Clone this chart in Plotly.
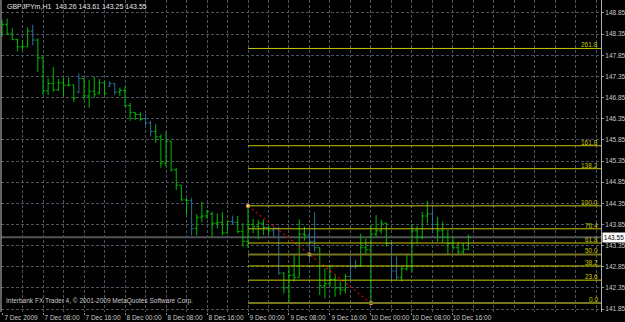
import pandas as pd
import plotly.graph_objects as go

# ---------------- data ----------------
start = pd.Timestamp("2009-12-07 00:00")
times = pd.date_range(start, periods=92, freq="h")

opens = [148.40, 148.58, 148.35, 148.22, 148.05, 148.05, 148.42, 148.21, 147.79, 147.01,
         147.18, 147.03, 147.20, 147.14, 147.15, 146.98, 147.30, 146.89, 147.00, 146.96,
         147.20, 147.12, 147.18, 146.98, 147.02, 146.66, 146.50, 146.45, 146.35, 146.25,
         146.05, 145.92, 145.30, 145.82, 145.14, 144.78, 144.43, 144.42, 143.75, 144.02,
         144.05, 144.10, 143.88, 143.90, 143.65, 143.92, 143.90, 143.68, 143.45, 143.85,
         143.80, 143.88, 143.78, 143.70, 143.75, 142.70, 142.35, 142.65, 142.60, 143.62,
         143.60, 143.45, 143.30, 142.40, 142.45, 142.55, 142.35, 142.30, 142.62, 142.85,
         142.88, 143.30, 143.25, 143.62, 143.70, 143.88, 143.40, 142.75, 142.60, 142.80,
         142.85, 143.70, 143.55, 144.05, 144.10, 143.85, 143.70, 143.55, 143.40, 143.30,
         143.20, 143.26]
highs = [148.68, 148.72, 148.49, 148.24, 148.21, 148.51, 148.57, 148.25, 147.82, 147.31,
         147.57, 147.29, 147.31, 147.32, 147.15, 147.42, 147.31, 147.27, 147.34, 147.29,
         147.24, 147.24, 147.19, 147.08, 147.11, 146.72, 146.50, 146.50, 146.46, 146.30,
         146.22, 145.98, 146.04, 145.82, 145.18, 144.78, 144.47, 144.48, 144.09, 144.39,
         144.19, 144.15, 144.11, 144.14, 143.93, 144.06, 144.05, 143.88, 144.29, 143.98,
         143.96, 143.97, 143.80, 143.80, 143.80, 142.72, 142.85, 143.13, 143.97, 143.80,
         143.74, 144.14, 143.30, 142.81, 142.89, 142.66, 142.50, 142.68, 143.05, 143.01,
         143.63, 143.52, 143.84, 144.07, 143.96, 143.89, 143.47, 143.09, 142.87, 143.13,
         143.86, 143.81, 144.15, 144.41, 144.23, 144.03, 143.92, 143.72, 143.56, 143.44,
         143.41, 143.61]
lows = [148.29, 148.33, 148.21, 147.94, 147.98, 148.05, 148.08, 147.46, 146.91, 146.91,
        146.99, 147.01, 146.87, 147.11, 146.75, 146.95, 146.79, 146.61, 146.85, 146.92,
        146.91, 147.11, 146.91, 146.89, 146.63, 146.30, 146.32, 146.30, 146.20, 145.93,
        145.78, 145.19, 145.22, 145.10, 144.67, 144.41, 144.09, 143.59, 143.59, 143.90,
        143.98, 143.56, 143.76, 143.59, 143.64, 143.84, 143.64, 143.33, 143.29, 143.64,
        143.50, 143.60, 143.60, 143.56, 142.66, 142.22, 141.97, 142.50, 142.60, 143.47,
        143.01, 143.21, 142.18, 142.10, 142.38, 142.14, 142.18, 142.22, 142.54, 142.81,
        142.84, 143.13, 141.99, 143.56, 143.63, 143.33, 142.54, 142.54, 142.50, 142.76,
        142.73, 143.41, 143.50, 143.88, 143.64, 143.44, 143.41, 143.13, 143.25, 143.13,
        143.13, 143.25]
closes = [148.58, 148.35, 148.22, 148.05, 148.05, 148.42, 148.21, 147.79, 147.01, 147.18,
          147.03, 147.20, 147.14, 147.15, 146.84, 147.30, 146.89, 147.00, 146.92, 147.20,
          146.95, 147.18, 146.98, 147.02, 146.66, 146.50, 146.45, 146.33, 146.25, 146.05,
          145.92, 145.30, 145.82, 145.14, 144.78, 144.43, 144.42, 143.75, 144.02, 144.05,
          144.16, 143.88, 143.90, 143.65, 143.92, 143.90, 143.68, 143.45, 143.85, 143.80,
          143.88, 143.78, 143.70, 143.75, 142.70, 142.35, 142.65, 142.60, 143.62, 143.60,
          143.45, 143.30, 142.40, 142.45, 142.55, 142.35, 142.30, 142.62, 142.85, 142.88,
          143.30, 143.25, 143.62, 143.70, 143.88, 143.40, 142.75, 142.60, 142.80, 142.85,
          143.70, 143.55, 144.05, 144.10, 143.85, 143.70, 143.55, 143.40, 143.30, 143.20,
          143.26, 143.55]

tick_labels = ["7 Dec 2009", "7 Dec 08:00", "7 Dec 16:00", "8 Dec 00:00", "8 Dec 08:00",
               "8 Dec 16:00", "9 Dec 00:00", "9 Dec 08:00", "9 Dec 16:00", "10 Dec 00:00",
               "10 Dec 08:00", "10 Dec 16:00"]
tick_times = ["2009-12-07 00:00", "2009-12-07 08:00", "2009-12-07 16:00", "2009-12-08 00:00",
              "2009-12-08 08:00", "2009-12-08 16:00", "2009-12-09 00:00", "2009-12-09 08:00",
              "2009-12-09 16:00", "2009-12-10 00:00", "2009-12-10 08:00", "2009-12-10 16:00"]
price_ticks = [141.85, 142.35, 142.85, 143.35, 143.85, 144.35, 144.85, 145.35,
               145.85, 146.35, 146.85, 147.35, 147.85, 148.35, 148.85]

symbol_title = "GBPJPYm,H1  143.26 143.61 143.25 143.55"
copyright_text = "Interbank FX Trader 4, \u00a9 2001-2009 MetaQuotes Software Corp."
bid_price = 143.55

fib_high = 144.29
fib_low = 141.99
fib_start = "2009-12-09 00:00"
fib_end = "2009-12-10 00:00"
fib_mid = "2009-12-09 12:00"
fib_levels = [0.0, 23.6, 38.2, 50.0, 61.8, 76.4, 100.0, 138.2, 161.8, 261.8]

# style: bars drawn in the blue tone in the picture
blue_bars = [6, 15, 21, 22, 28, 29, 37, 45, 53, 54, 60, 61, 68, 69, 76, 77, 84]

# ---------------- figure ----------------
GREEN = "#00bc00"
BLUE = "#2a6f9a"
YEL = "#c8c800"
OLIVE = "#77771e"
GRID = "#4c5462"
TXT = "#c8c8c8"
FONT = "Liberation Sans"

fig = go.Figure()

green_idx = [i for i in range(len(times)) if i not in blue_bars]
for idx, col in ((green_idx, GREEN), (blue_bars, BLUE)):
    fig.add_trace(go.Ohlc(
        x=[times[i] for i in idx],
        open=[opens[i] for i in idx], high=[highs[i] for i in idx],
        low=[lows[i] for i in idx], close=[closes[i] for i in idx],
        increasing=dict(line=dict(color=col, width=1)),
        decreasing=dict(line=dict(color=col, width=1)),
        tickwidth=0.4, hoverinfo="skip", showlegend=False))

x_lo = start - pd.Timedelta(hours=0.195)
x_hi = start + pd.Timedelta(hours=116.88)

# bid line
fig.add_shape(type="line", xref="paper", yref="y", x0=0, x1=1, y0=bid_price, y1=bid_price,
              line=dict(color="#505358", width=2), layer="below")

# fibonacci levels
for lv in fib_levels:
    p = fib_low + lv / 100.0 * (fib_high - fib_low)
    olive = lv in (0.0, 50.0)
    fig.add_shape(type="line", xref="x", yref="y", x0=fib_start, x1=x_hi, y0=p, y1=p,
                  line=dict(color=OLIVE if olive else YEL, width=2 if olive else 1))
    fig.add_annotation(x=1, xref="paper", y=p, yref="y", text=f"{lv:.1f}", showarrow=False,
                       xanchor="right", yanchor="bottom", xshift=-1, yshift=-2,
                       font=dict(family=FONT, size=6.5, color=YEL))

# fibonacci trend line (red dotted) and anchors
fig.add_trace(go.Scatter(x=[fib_start, fib_end], y=[fib_high, fib_low], mode="lines",
                         line=dict(color="#d00000", width=1.3, dash="2px,3px"),
                         hoverinfo="skip", showlegend=False))
fig.add_trace(go.Scatter(x=[fib_start, fib_mid, fib_end],
                         y=[fib_high, (fib_high + fib_low) / 2, fib_low], mode="markers",
                         marker=dict(symbol="square", size=3, color="#ffe0a0",
                                     line=dict(color="#ff8040", width=0.5)),
                         hoverinfo="skip", showlegend=False))

# texts
fig.add_annotation(x=0, xref="paper", y=1, yref="paper", text=symbol_title, showarrow=False,
                   xanchor="left", yanchor="top", xshift=4, yshift=-1,
                   font=dict(family=FONT, size=7, color="#e6e6e6"))
fig.add_annotation(x=0, xref="paper", y=0, yref="paper", text=copyright_text, showarrow=False,
                   xanchor="left", yanchor="bottom", xshift=3, yshift=5,
                   font=dict(family=FONT, size=6.5, color=TXT))
fig.add_annotation(x=1, xref="paper", y=bid_price, yref="y", text=f"{bid_price:.2f}",
                   showarrow=False, xanchor="left", yanchor="middle", xshift=1,
                   bgcolor="#ffffff", borderpad=1, width=20,
                   font=dict(family=FONT, size=6.5, color="#000000"))

# left border
fig.add_shape(type="line", xref="paper", yref="paper", x0=0, x1=0, y0=0, y1=1,
              line=dict(color="#c0c0c0", width=1))

fig.update_layout(
    width=625, height=322,
    margin=dict(l=1, r=24, t=0, b=10, autoexpand=False),
    paper_bgcolor="#000000", plot_bgcolor="#000000",
    showlegend=False, hovermode=False,
    font=dict(family=FONT, size=6.5, color=TXT),
    xaxis=dict(
        type="date", range=[x_lo, x_hi], rangeslider=dict(visible=False),
        tickvals=tick_times, ticktext=tick_labels, ticklabelshift=19, tickangle=0,
        ticklabelstandoff=-3,
        ticks="outside", ticklen=2, tickcolor="#909090", automargin=False,
        showgrid=True, gridcolor=GRID, griddash="3px,2px", gridwidth=1,
        minor=dict(dtick=4 * 3600 * 1000, tick0="2009-12-07 00:00", showgrid=True,
                   gridcolor=GRID, griddash="3px,2px", gridwidth=1),
        showline=False, zeroline=False, fixedrange=True,
        tickfont=dict(family=FONT, size=6.5, color=TXT),
    ),
    yaxis=dict(
        side="right", range=[141.78, 149.157], automargin=False,
        tickvals=price_ticks, ticktext=[f"{v:.2f}" for v in price_ticks],
        ticks="outside", ticklen=2, tickcolor="#909090",
        showgrid=True, gridcolor=GRID, griddash="3px,2px", gridwidth=1,
        showline=True, linecolor="#b0b0b0", linewidth=1,
        zeroline=False, fixedrange=True,
        tickfont=dict(family=FONT, size=6.5, color=TXT),
    ),
)

fig.write_html("out.html")
